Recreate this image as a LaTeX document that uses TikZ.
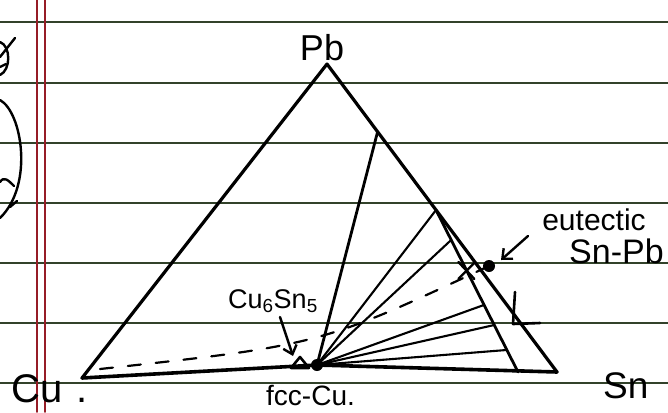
\documentclass[tikz,border=0pt]{standalone}
\usepackage{fontspec}
\setmainfont{Liberation Sans}
\usetikzlibrary{calc,arrows.meta}
\definecolor{paperline}{RGB}{50,66,42}
\definecolor{marginred}{RGB}{150,28,38}
\tikzset{
  ruled/.style={paperline, line width=2pt},
  marginline/.style={marginred, line width=1.6pt},
  edge/.style={black, line width=3.2pt},
  fanline/.style={black, line width=2.1pt},
  pen/.style={black, line width=2.4pt},
  dotnode/.style={circle, fill=black, inner sep=0pt, minimum size=12pt},
  lbl/.style={inner sep=0pt, text=black},
  barb/.style={-{Straight Barb[length=8pt,width=14pt,line width=2.4pt]}, line width=2.4pt}
}
\begin{document}
\begin{tikzpicture}[x=1pt,y=-1pt, line cap=round, line join=round]
\useasboundingbox (0,0) rectangle (668,412);
\fill[white] (0,0) rectangle (668,412);
% notebook paper
\foreach \yy in {22.5,82.5,142.5,202.5,262.5,322.5,382.5}
  \draw[ruled] (0,\yy) -- (668,\yy);
\draw[marginline] (36.7,0) -- (36.7,412);
\draw[marginline] (45,0) -- (45,412);
% fragments in the margin
\draw[pen] (0,42) .. controls (11,46) and (11,70) .. (0,75);
\draw[pen] (0,57) -- (15,38);
\draw[pen] (0,67) -- (6,64);
\draw[pen] (0,100) .. controls (22,112) and (34,185) .. (0,218);
\draw[pen] (0,182) .. controls (4,176) and (8,180) .. (14,186);
\draw[pen] (10,207) -- (17,201);

% corners
\coordinate (Cu) at (82,378);
\coordinate (Pb) at (327,64);
\coordinate (Sn) at (557,372);
\node[dotnode] (fcc) at (317,365) {};
\coordinate (A) at ($(Pb)!0.22!(Sn)$);
\coordinate (B) at ($(Pb)!0.474!(Sn)$);
\coordinate (C) at (518,372);
\coordinate (F1) at ($(B)!0.185!(C)$);
\coordinate (X) at ($(B)!0.37!(C)$);
\coordinate (F3) at ($(B)!0.586!(C)$);
\coordinate (F4) at ($(B)!0.71!(C)$);
\coordinate (F5) at ($(B)!0.864!(C)$);
\node[dotnode] (eut) at (489,266) {};
\coordinate (dstart) at (100,369);

% triangle
\draw[edge] (Cu) -- (Pb) -- (Sn);
\draw[edge, line width=3.6pt] (Cu) -- (fcc.center) -- (Sn);
% tie lines
\draw[edge, line width=2.8pt] (fcc.center) -- (A);
\draw[edge, line width=2.8pt] (B) -- (C);
\draw[fanline] (fcc.center) -- (B);
\draw[fanline] (fcc.center) -- (F1);
\draw[fanline] (fcc.center) -- (F3);
\draw[fanline] (fcc.center) -- (F4);
\draw[fanline] (fcc.center) -- (F5);
% dashed path
\draw[pen, line width=2.2pt, dash pattern=on 13pt off 15pt] (dstart) .. controls (320,345) .. (eut.center);
% X mark
\draw[pen] ($(X)+(-8,-8)$) -- ($(X)+(8,9)$);
\draw[pen] ($(X)+(-8,9)$) -- ($(X)+(9,-8)$);
% Cu6Sn5 marker triangle
\draw[pen, line width=2.6pt] (291,368) -- (300,357) -- (309,368) -- cycle;
% L mark
\draw[pen, line width=2.6pt] (515,292) -- (513,324) -- (540,323);

% labels
\node[lbl, font=\fontsize{36}{36}\selectfont, anchor=base] (pbl) at (322,60) {Pb};
\node[lbl, font=\fontsize{40}{40}\selectfont, anchor=base west] (cul) at (11,402) {Cu\hspace{14pt}.};
\node[lbl, font=\fontsize{37}{37}\selectfont, anchor=base west] (snl) at (603,398) {Sn};
\node[lbl, font=\fontsize{30}{30}\selectfont, anchor=base] (eutl) at (594,230) {eutectic};
\node[lbl, font=\fontsize{34}{34}\selectfont, anchor=base west] (snpb) at (569,263) {Sn-Pb};
\node[lbl, font=\fontsize{27}{27}\selectfont, anchor=base west] (imc) at (228,308) {Cu\textsubscript{6}Sn\textsubscript{5}};
\node[lbl, font=\fontsize{28}{28}\selectfont, anchor=base west] (fccl) at (266,405) {fcc-Cu.};

% arrows
\coordinate (a1s) at (280,317);
\coordinate (a1e) at (293,356);
\draw[barb] (a1s) -- (a1e);
\coordinate (a2s) at (528,236);
\coordinate (a2e) at (501,260);
\draw[barb] (a2s) -- (a2e);
\end{tikzpicture}
\end{document}
